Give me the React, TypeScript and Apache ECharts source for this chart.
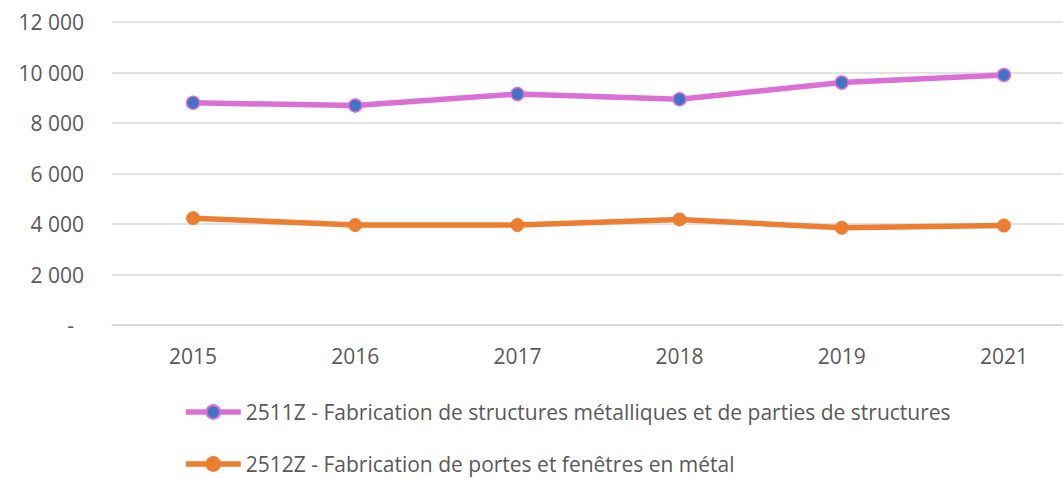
import React, { useEffect, useRef } from "react";
import * as echarts from "echarts";

const years = ["2015", "2016", "2017", "2018", "2019", "2021"];
const seriesNames = [
  "2511Z - Fabrication de structures métalliques et de parties de structures",
  "2512Z - Fabrication de portes et fenêtres en métal",
];
const structures = [8800, 8690, 9150, 8940, 9600, 9900];
const portes = [4230, 3960, 3960, 4180, 3850, 3940];

const font = "'Open Sans', 'Noto Sans', sans-serif";
const textColor = "#595959";
const pink = "#DA70D6";
const blue = "#4472C4";
const orange = "#ED7D31";

function fmt(v: number): string {
  if (v === 0) return "{dash|-}";
  const s = String(Math.round(v));
  return s.replace(/\B(?=(\d{3})+(?!\d))/g, " ");
}

function legendFor(name: string, top: number) {
  return {
    orient: "horizontal",
    left: 183,
    top,
    padding: 0,
    itemWidth: 55,
    itemHeight: 17,
    lineStyle: { width: 5.5 },
    textStyle: { color: textColor, fontFamily: font, fontSize: 21, lineHeight: 24 },
    data: [name],
  };
}

export default function App() {
  const ref = useRef<HTMLDivElement>(null);
  useEffect(() => {
    if (!ref.current) return;
    const chart = echarts.init(ref.current, null, { renderer: "svg" });
    chart.setOption({
      animation: false,
      backgroundColor: "#ffffff",
      grid: {
        left: 112,
        top: 22,
        width: 973,
        height: 303,
        containLabel: false,
        outerBoundsMode: "none",
      },
      xAxis: {
        type: "category",
        data: years,
        boundaryGap: true,
        axisTick: { show: false },
        axisLine: { lineStyle: { color: "#D9D9D9", width: 1.5 } },
        axisLabel: { color: textColor, fontFamily: font, fontSize: 21, margin: 20 },
        splitLine: { show: false },
      },
      yAxis: {
        type: "value",
        min: 0,
        max: 12000,
        interval: 2000,
        axisLine: { show: false },
        axisTick: { show: false },
        axisLabel: {
          color: textColor,
          fontFamily: font,
          fontSize: 21,
          margin: 28,
          formatter: fmt,
          rich: { dash: { color: textColor, fontFamily: font, fontSize: 21, padding: [0, 10, 0, 0] } },
        },
        splitLine: { lineStyle: { color: "#D9D9D9", width: 1.5 } },
      },
      legend: [legendFor(seriesNames[0], 400), legendFor(seriesNames[1], 452)],
      series: [
        {
          name: seriesNames[0],
          type: "line",
          data: structures,
          symbol: "circle",
          symbolSize: 13,
          lineStyle: { color: pink, width: 5.5 },
          itemStyle: { color: blue, borderColor: pink, borderWidth: 1.5 },
        },
        {
          name: seriesNames[1],
          type: "line",
          data: portes,
          symbol: "circle",
          symbolSize: 13,
          lineStyle: { color: orange, width: 5.5 },
          itemStyle: { color: orange, borderColor: orange, borderWidth: 1 },
        },
      ],
    });
    return () => chart.dispose();
  }, []);
  return (
    <div
      ref={ref}
      style={{ position: "fixed", left: 0, top: 0, width: 1063, height: 478, background: "#fff" }}
    />
  );
}
